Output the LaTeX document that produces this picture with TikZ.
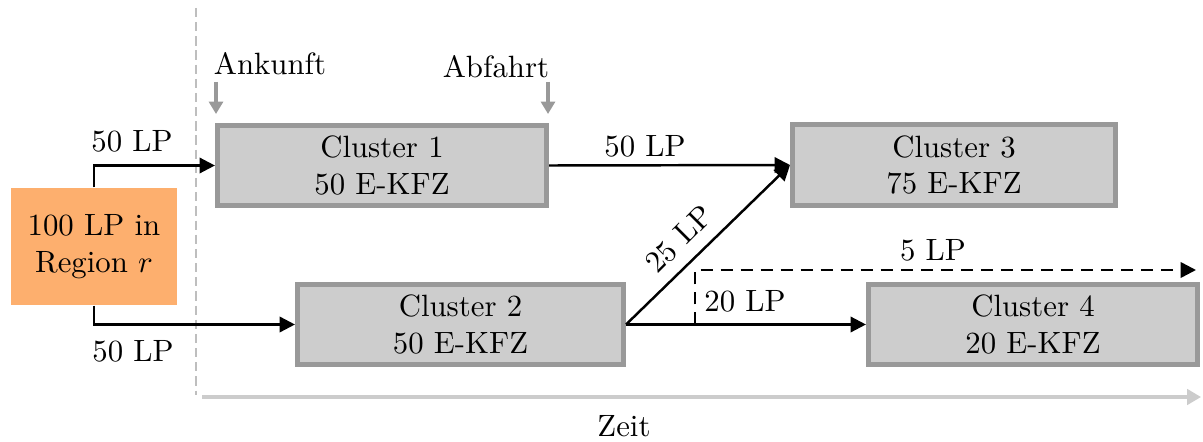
\documentclass[tikz,border=0pt]{standalone}
\usetikzlibrary{arrows.meta}
\definecolor{boxfill}{RGB}{205,205,205}
\definecolor{boxline}{RGB}{153,153,153}
\definecolor{regfill}{RGB}{253,175,110}
\definecolor{axisgray}{RGB}{204,204,204}
\definecolor{dashgray}{RGB}{190,190,190}
\tikzset{
  cluster/.style={draw=boxline, fill=boxfill, line width=1.5pt, align=center,
    minimum height=26.1pt, inner sep=0pt},
  region/.style={fill=regfill, align=center, minimum width=53.9pt, minimum height=38pt, inner sep=0pt},
  flow/.style={line width=0.8pt, -{Triangle[length=5pt,width=5pt]}},
  dflow/.style={flow, dashed, dash pattern=on 4pt off 2.5pt},
  marker/.style={boxline, line width=1pt, -{Triangle[length=4pt,width=4.5pt]}},
  timeaxis/.style={axisgray, line width=1pt, -{Triangle[length=4.5pt,width=5pt]}},
  lbl/.style={inner sep=0pt}
}
\begin{document}
\begin{tikzpicture}[x=0.3247pt,y=-0.3247pt]
\useasboundingbox (0,0) rectangle (1203,441);
% separator and time axis
\coordinate (sepT) at (196,8);
\coordinate (sepB) at (196,395);
\draw[dashgray, line width=0.5pt, dash pattern=on 3pt off 1.6pt] (sepT) -- (sepB);
\coordinate (axL) at (202,397);
\coordinate (axR) at (1201,397);
\draw[timeaxis] (axL) -- (axR);
\node[lbl] (zeit) at (624,426) {Zeit};
% nodes
\node[region] (reg) at (94,246.5) {100 LP in\\Region $r$};
\node[cluster, minimum width=107pt] (c1) at (382,165.5) {Cluster 1\\50 E-KFZ};
\node[cluster, minimum width=106pt] (c2) at (460.5,324.5) {Cluster 2\\50 E-KFZ};
\node[cluster, minimum width=105pt] (c3) at (954,165) {Cluster 3\\75 E-KFZ};
\node[cluster, minimum width=107pt] (c4) at (1033,324.5) {Cluster 4\\20 E-KFZ};
% Ankunft / Abfahrt
\node[lbl] (ank) at (270,63.5) {Ankunft};
\node[lbl] (abf) at (496,67) {Abfahrt};
\coordinate (ankT) at (216,82);
\coordinate (ankB) at (216,114);
\coordinate (abfT) at (548,82);
\coordinate (abfB) at (548,114);
\draw[marker] (ankT) -- (ankB);
\draw[marker] (abfT) -- (abfB);
% flows
\draw[flow] (reg.north) |- (c1.west);
\draw[flow] (reg.south) |- (c2.west);
\draw[flow] (c1.east) -- (c3.west);
\draw[flow] (c2.east) -- (c3.west);
\draw[flow] (c2.east) -- (c4.west);
\coordinate (d0) at (695,324.5);
\coordinate (d1) at (1196,270);
\draw[dflow] (d0) |- (d1);
% labels
\node[lbl] (l1) at (132,141) {50 LP};
\node[lbl] (l2) at (133,351) {50 LP};
\node[lbl] (l3) at (645,146) {50 LP};
\node[lbl, rotate=45] (l4) at (679,239) {25 LP};
\node[lbl] (l5) at (745,301) {20 LP};
\node[lbl] (l6) at (933,250) {5 LP};
\end{tikzpicture}
\end{document}
